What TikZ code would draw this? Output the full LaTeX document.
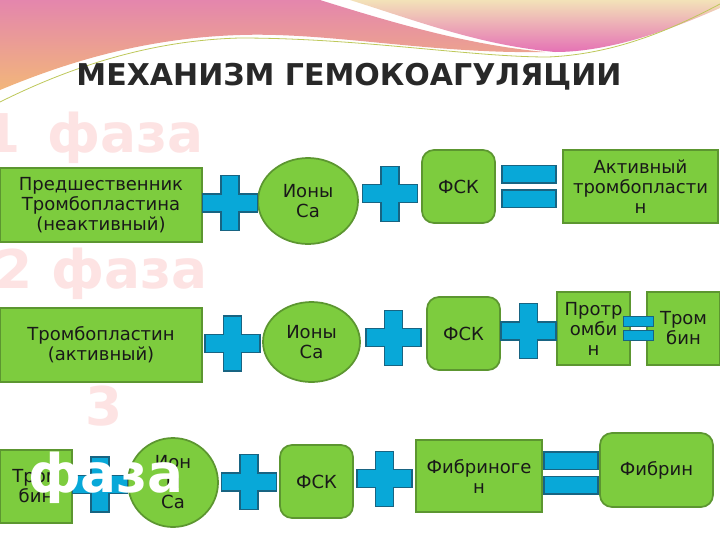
\documentclass[tikz,border=0pt]{standalone}
\usepackage{fontspec}
\setmainfont{DejaVu Sans}
\usetikzlibrary{shapes.geometric, positioning, calc}
\definecolor{boxfill}{RGB}{125,204,62}
\definecolor{boxframe}{RGB}{92,150,48}
\definecolor{signfill}{RGB}{8,168,216}
\definecolor{signframe}{RGB}{24,100,130}
\definecolor{phasepink}{RGB}{253,227,227}
\definecolor{titlegray}{RGB}{40,40,40}
\definecolor{wavepink}{RGB}{228,134,173}
\definecolor{waveorange}{RGB}{242,182,122}
\definecolor{wavepeach}{RGB}{243,226,184}
\definecolor{wavemagenta}{RGB}{229,114,181}
\definecolor{waveline}{RGB}{190,200,90}

\begin{document}
\begin{tikzpicture}[
        x=0.75pt, y=-0.75pt,
        every node/.style={font=\fontsize{13.5}{15}\selectfont, text=black!90, align=center},
        rectbox/.style={rectangle, draw=boxframe, fill=boxfill, line width=1.3pt, inner sep=1pt},
        roundbox/.style={rectbox, rounded corners=9pt, minimum width=54.75pt, minimum height=54.75pt},
        ovalbox/.style={rectbox, ellipse, inner sep=0pt},
        opsign/.style={draw=signframe, fill=signfill, line width=0.9pt},
        phase/.style={font=\fontsize{40}{42}\selectfont\bfseries, text=phasepink, anchor=base west},
        pics/plussign/.style={code={
            \draw[opsign] (-9,-27.5) -- (9,-27.5) -- (9,-9) -- (27.5,-9) -- (27.5,9) -- (9,9)
                -- (9,27.5) -- (-9,27.5) -- (-9,9) -- (-27.5,9) -- (-27.5,-9) -- (-9,-9) -- cycle;
        }},
        pics/equalsign/.style={code={
            \draw[opsign] (-27,-21) rectangle (27,-3.5);
            \draw[opsign] (-27,3.5) rectangle (27,21);
        }}
    ]
    \useasboundingbox[fill=white] (0,0) rectangle (720,540);

    % Waves on top
    \shade[top color=wavepink, bottom color=waveorange] (0,0) -- (320,0)
        .. controls (400,25) and (470,45) .. (545,52)
        .. controls (430,54) and (330,32) .. (240,35)
        .. controls (140,38) and (60,65) .. (0,90) -- cycle;
    \shade[top color=wavepeach, bottom color=wavemagenta] (350,0) -- (720,0) -- (720,8)
        .. controls (670,30) and (610,52) .. (555,52)
        .. controls (480,45) and (420,22) .. (350,0) -- cycle;
    \draw[waveline, line width=0.6pt] (0,102) .. controls (80,62) and (160,40) .. (240,38)
        .. controls (360,38) and (470,57) .. (548,57) .. controls (620,54) and (680,25) .. (720,4);

    % Title
    \node[font=\fontsize{22.5}{25}\selectfont\bfseries, text=titlegray, anchor=base] (title) at (349,85) {МЕХАНИЗМ ГЕМОКОАГУЛЯЦИИ};

    % Phase marks
    \node[phase] (ph1) at (-21,152) {1\hspace{0.5em}фаза};
    \node[phase] (ph2) at (-9,288) {2 фаза};
    \node[phase, anchor=base] (ph3) at (104,425) {3};

    % Phase 1
    \node[rectbox, minimum width=151.5pt, minimum height=55.5pt] (r1a) at (101,205) {Предшественник\\Тромбопластина\\(неактивный)};
    \node[ovalbox, minimum width=75pt, minimum height=64.5pt] (r1b) at (308,201) {Ионы\\Са};
    \node[roundbox] (r1c) at (458.5,186.5) {ФСК};
    \node[rectbox, minimum width=116.25pt, minimum height=54.75pt] (r1d) at (640.5,186.5) {Активный\\тромбопласти\\н};
    \pic at ($(r1a.east)!0.5!(r1b.west)$) {plussign};
    \pic at ($(r1b.east)!0.5!(r1c.west)$) {plussign};
    \pic at ($(r1c.east)!0.5!(r1d.west)$) {equalsign};

    % Phase 2
    \node[rectbox, minimum width=151.5pt, minimum height=55.5pt] (r2a) at (101,345) {Тромбопластин\\(активный)};
    \node[ovalbox, minimum width=72.75pt, minimum height=60pt] (r2b) at (311.5,342) {Ионы\\Са};
    \node[roundbox] (r2c) at (463.5,333.5) {ФСК};
    \node[rectbox, minimum width=54.75pt, minimum height=54.75pt] (r2d) at (593.5,328.5) {Протр\\омби\\н};
    \node[rectbox, minimum width=54.75pt, minimum height=54.75pt] (r2e) at (683.5,328.5) {Тром\\бин};
    \pic at ($(r2a.east)!0.5!(r2b.west)$) {plussign};
    \pic at ($(r2b.east)!0.5!(r2c.west)$) {plussign};
    \pic at ($(r2c.east)!0.5!(r2d.west)$) {plussign};
    \pic[scale=0.56] at ($(r2d.east)!0.5!(r2e.west)$) {equalsign};

    % Phase 3
    \node[rectbox, minimum width=54pt, minimum height=54.75pt] (r3a) at (36,486.5) {Тром\\бин};
    \node[ovalbox, minimum width=67.5pt, minimum height=66.75pt] (r3b) at (173,482.5) {Ион\\ы\\Са};
    \node[roundbox] (r3c) at (316.5,481.5) {ФСК};
    \node[rectbox, minimum width=94.5pt, minimum height=54pt] (r3d) at (479,476) {Фибриноге\\н};
    \node[roundbox, minimum width=84.75pt, minimum height=55.5pt] (r3e) at (656.5,470) {Фибрин};
    \pic at ($(r3a.east)!0.5!(r3b.west)$) {plussign};
    \pic at ($(r3b.east)!0.5!(r3c.west)$) {plussign};
    \pic at ($(r3c.east)!0.5!(r3d.west)$) {plussign};
    \pic at ($(r3d.east)!0.5!(r3e.west)$) {equalsign};

    \node[phase, text=white, anchor=base] (ph3b) at (106,492) {фаза};
\end{tikzpicture}
\end{document}
